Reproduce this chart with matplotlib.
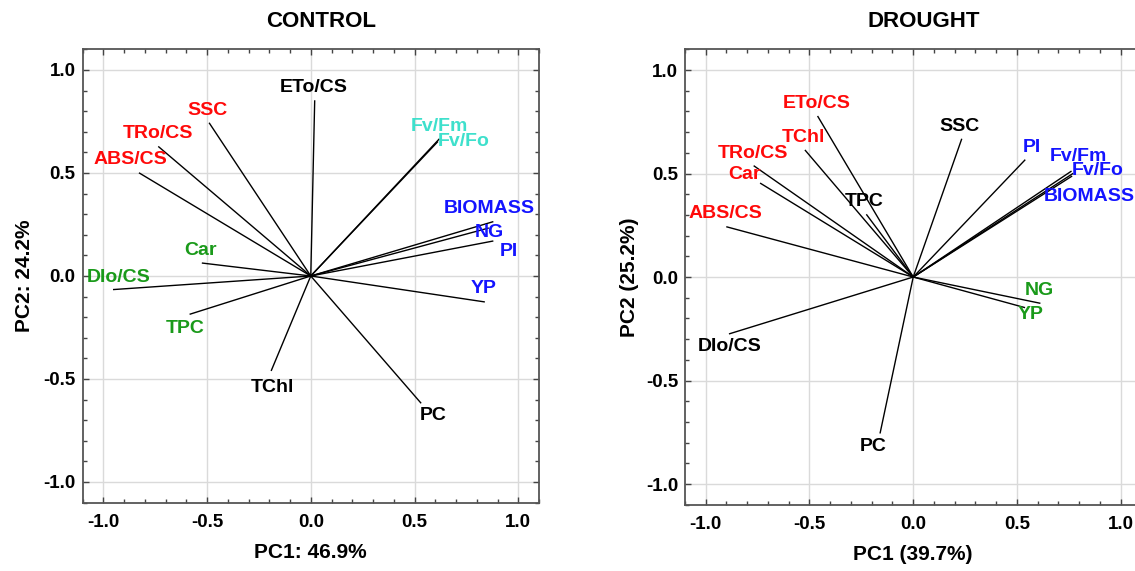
import matplotlib
matplotlib.use("Agg")
import matplotlib.pyplot as plt
from matplotlib.ticker import MultipleLocator

plt.rcParams['font.family'] = ['Liberation Sans', 'DejaVu Sans']
plt.rcParams['font.weight'] = 'bold'

# ---------------- data ----------------
control_vars = ["ETo/CS", "SSC", "TRo/CS", "ABS/CS", "Fv/Fm", "Fv/Fo", "BIOMASS",
                "NG", "PI", "YP", "Car", "DIo/CS", "TPC", "TChl", "PC"]
control_pc1 = [0.019, -0.490, -0.735, -0.828, 0.620, 0.613, 0.880,
               0.858, 0.880, 0.839, -0.525, -0.953, -0.584, -0.191, 0.532]
control_pc2 = [0.853, 0.744, 0.629, 0.501, 0.666, 0.653, 0.264,
               0.233, 0.170, -0.126, 0.063, -0.066, -0.186, -0.461, -0.618]
control_groups = ["k", "r", "r", "r", "c", "c", "b",
                  "b", "b", "b", "g", "g", "g", "k", "k"]

drought_vars = ["ETo/CS", "TChl", "TRo/CS", "Car", "ABS/CS", "TPC", "SSC", "PI",
                "Fv/Fm", "Fv/Fo", "BIOMASS", "NG", "YP", "DIo/CS", "PC"]
drought_pc1 = [-0.461, -0.522, -0.769, -0.738, -0.901, -0.226, 0.234, 0.540,
               0.763, 0.771, 0.766, 0.613, 0.539, -0.888, -0.160]
drought_pc2 = [0.778, 0.614, 0.538, 0.454, 0.243, 0.303, 0.668, 0.567,
               0.512, 0.501, 0.488, -0.127, -0.148, -0.275, -0.756]
drought_groups = ["r", "r", "r", "r", "r", "k", "k", "b",
                  "b", "b", "b", "g", "g", "k", "k"]

# label placement (layout, data coordinates)
control_label_xy = [(0.014, 0.917), (-0.497, 0.804), (-0.737, 0.690), (-0.870, 0.566),
                    (0.620, 0.728), (0.738, 0.652), (0.860, 0.326), (0.861, 0.209),
                    (0.957, 0.120), (0.834, -0.062), (-0.532, 0.125), (-0.925, -0.008),
                    (-0.607, -0.257), (-0.187, -0.540), (0.591, -0.678)]
drought_label_xy = [(-0.465, 0.839), (-0.530, 0.675), (-0.774, 0.597), (-0.815, 0.493),
                    (-0.906, 0.308), (-0.234, 0.367), (0.224, 0.729), (0.572, 0.626),
                    (0.794, 0.581), (0.890, 0.514), (0.848, 0.388), (0.606, -0.063),
                    (0.568, -0.182), (-0.883, -0.334), (-0.194, -0.820)]

palette = {"k": "#000000", "r": "#ff0a0a", "b": "#1414ff", "g": "#1a9a1a", "c": "#3ee0cc"}

fig = plt.figure(figsize=(11.35, 5.71), dpi=100)
ax1 = fig.add_axes([0.0727, 0.1198, 0.4022, 0.7937])
ax2 = fig.add_axes([0.6035, 0.1161, 0.4022, 0.7975])


def draw(ax, names, pc1, pc2, groups, label_xy, title, xlabel, ylabel, ylabelpad):
    for n, x, y, g, (lx, ly) in zip(names, pc1, pc2, groups, label_xy):
        ax.plot([0, x], [0, y], color="black", lw=1.0, solid_capstyle="butt", zorder=3)
        ax.text(lx, ly, n, color=palette[g], fontsize=14, fontweight="bold",
                ha="center", va="center", zorder=4)
    ax.set_xlim(-1.1, 1.1)
    ax.set_ylim(-1.1, 1.1)
    ax.xaxis.set_minor_locator(MultipleLocator(0.1))
    ax.yaxis.set_minor_locator(MultipleLocator(0.1))
    ax.set_xticks([-1.0, -0.5, 0.0, 0.5, 1.0])
    ax.set_yticks([-1.0, -0.5, 0.0, 0.5, 1.0])
    ax.set_xticklabels(["-1.0", "-0.5", "0.0", "0.5", "1.0"])
    ax.set_yticklabels(["-1.0", "-0.5", "0.0", "0.5", "1.0"])
    ax.grid(True, which="major", color="#dadada", lw=1.0, zorder=0)
    ax.set_axisbelow(True)
    ax.tick_params(which="both", direction="in", top=True, right=True,
                   color="#444444", width=1.0)
    ax.tick_params(which="major", length=4)
    ax.tick_params(which="minor", length=3)
    ax.tick_params(axis="x", which="major", labelsize=13.5, pad=8)
    ax.tick_params(axis="y", which="major", labelsize=13.5, pad=5)
    for lab in ax.get_xticklabels() + ax.get_yticklabels():
        lab.set_fontweight("bold")
    for sp in ax.spines.values():
        sp.set_color("#555555")
        sp.set_linewidth(1.3)
    ax.set_title(title, fontsize=16, fontweight="bold", pad=16, x=0.522)
    ax.set_xlabel(xlabel, fontsize=15, fontweight="bold", labelpad=9)
    ax.set_ylabel(ylabel, fontsize=15, fontweight="bold", labelpad=ylabelpad)


draw(ax1, control_vars, control_pc1, control_pc2, control_groups, control_label_xy,
     "CONTROL", "PC1: 46.9%", "PC2: 24.2%", 7)
draw(ax2, drought_vars, drought_pc1, drought_pc2, drought_groups, drought_label_xy,
     "DROUGHT", "PC1 (39.7%)", "PC2 (25.2%)", 5)

fig.savefig("out.png", dpi=100)
